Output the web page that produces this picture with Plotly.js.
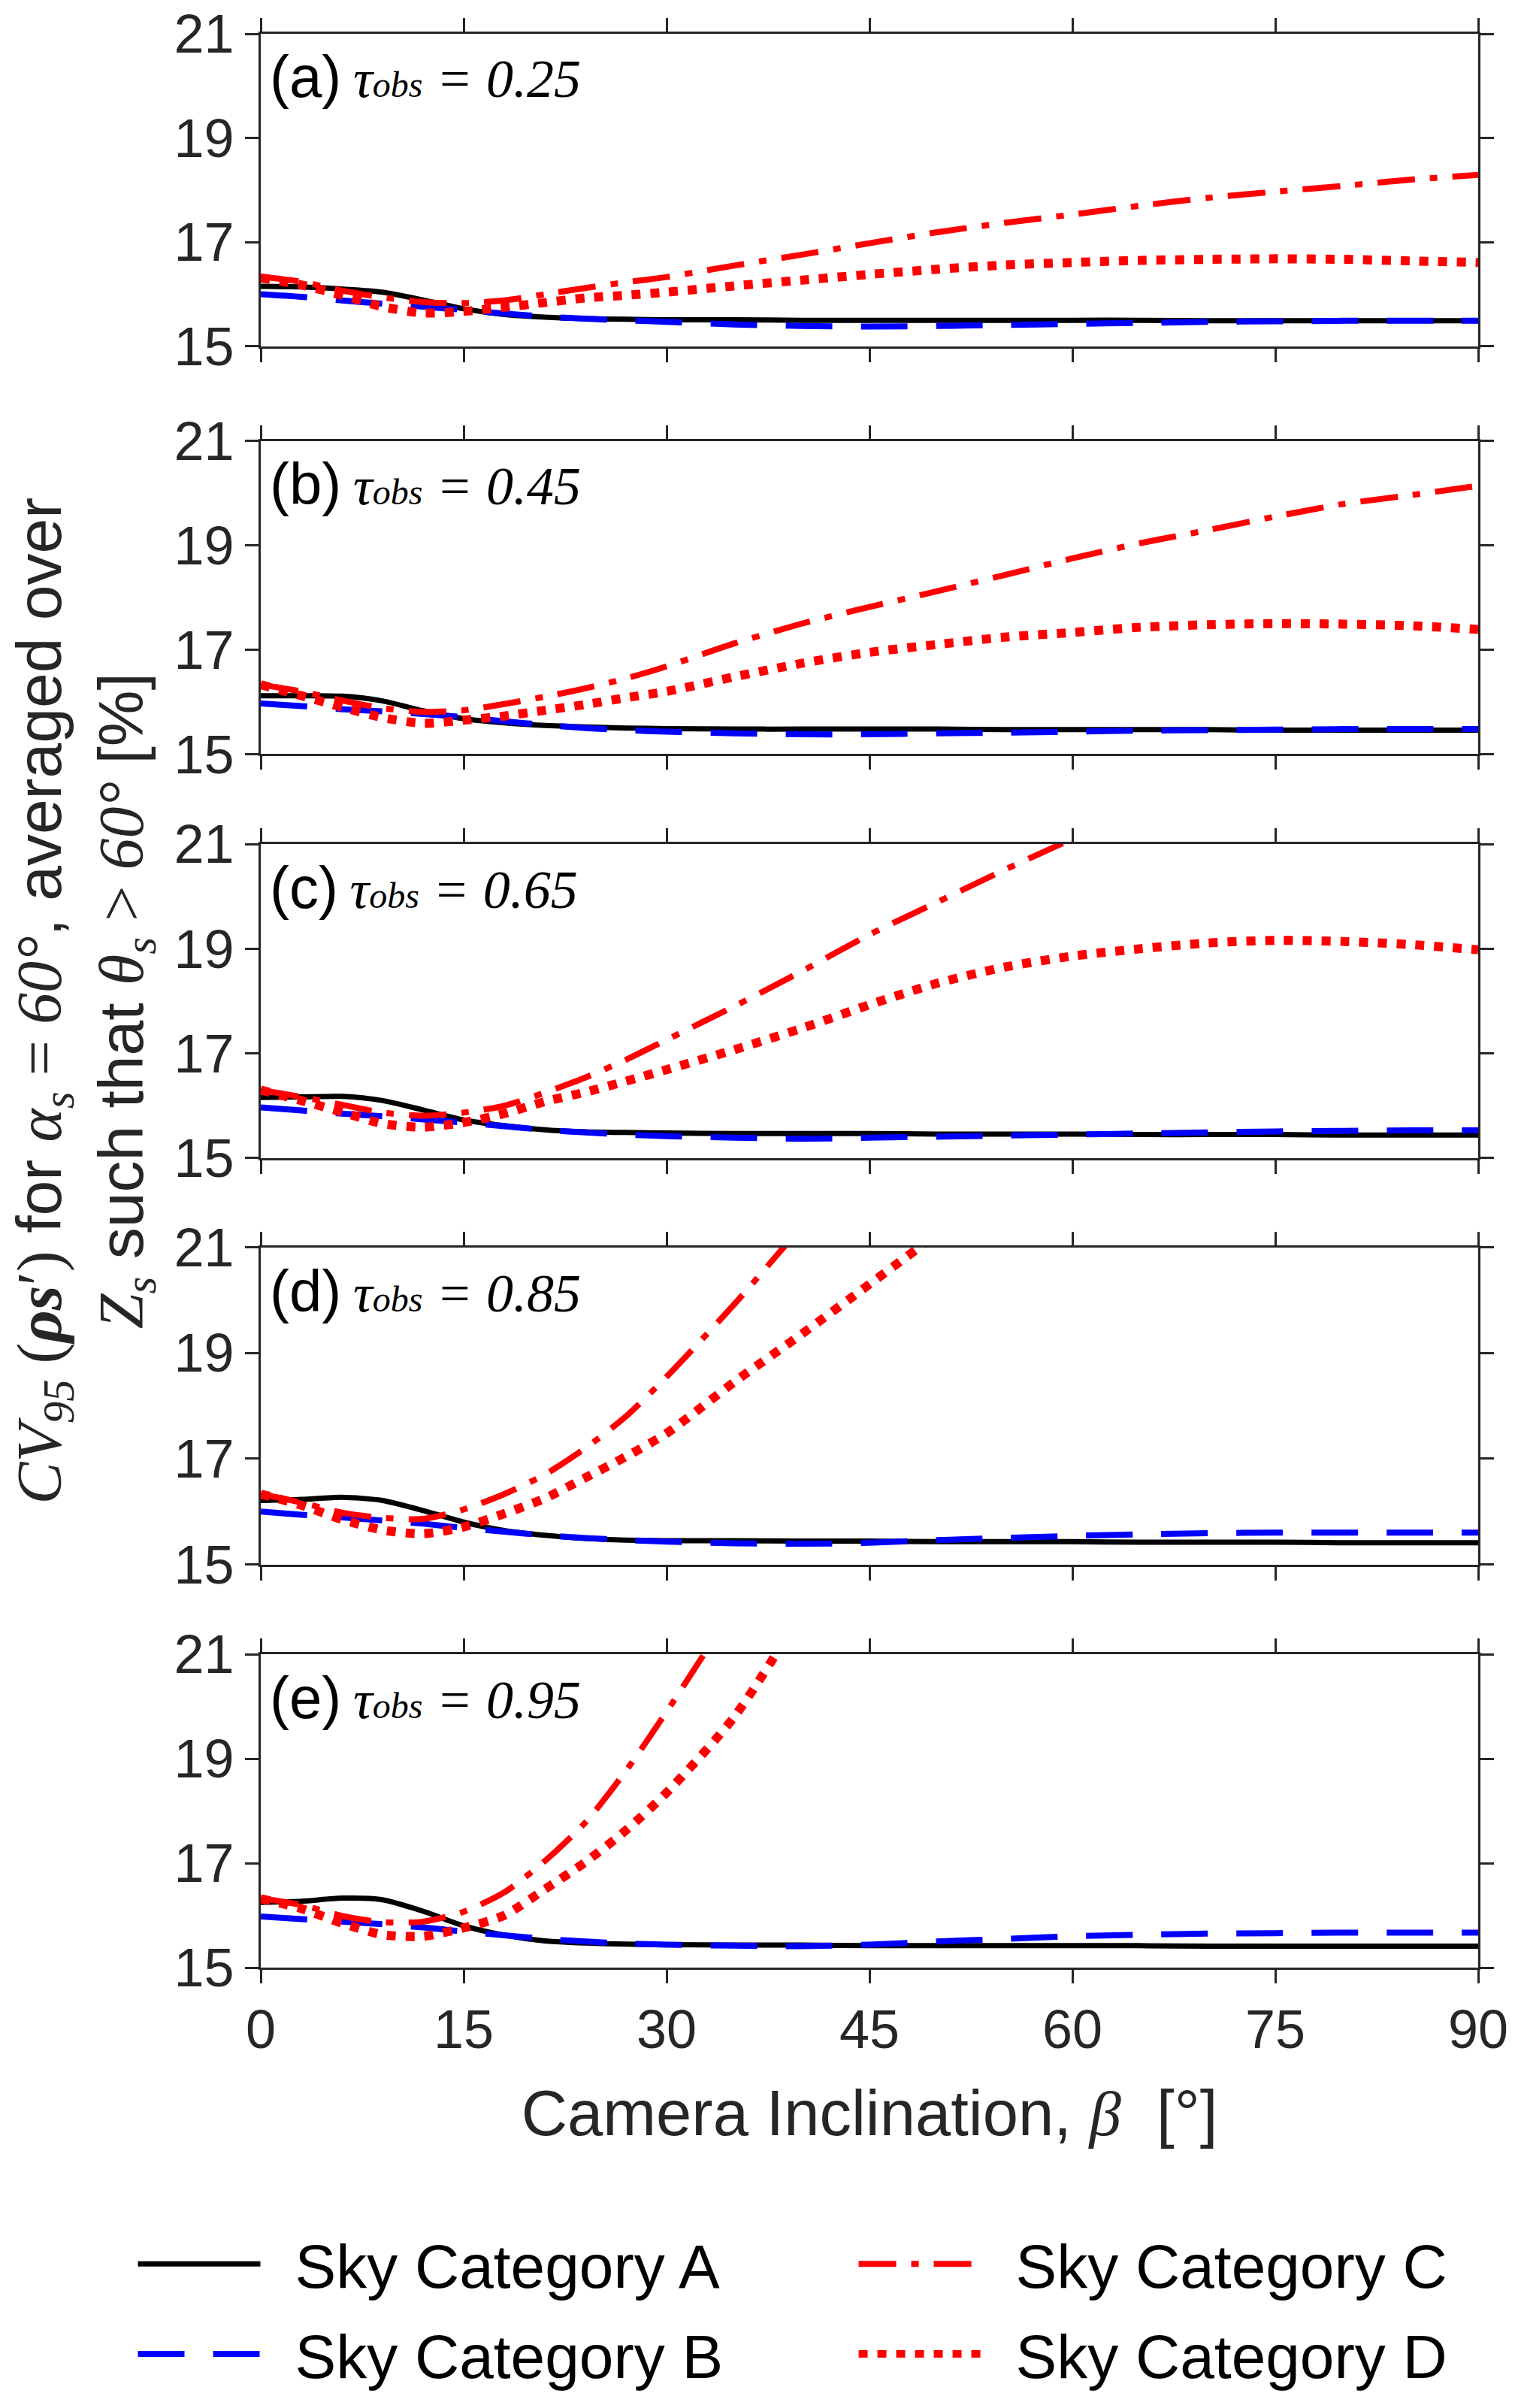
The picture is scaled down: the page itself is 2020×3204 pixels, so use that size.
<!DOCTYPE html>
<html>
<head>
<meta charset="utf-8">
<script src="https://cdn.plot.ly/plotly-3.0.1.min.js"></script>
<style>body{margin:0;background:#fff}</style>
</head>
<body>
<div id="chart" style="width:2020px;height:3204px"></div>
<script>
// camera inclination grid (deg)
const beta = [0, 3, 6, 9, 12, 15, 18, 21, 24, 27, 30, 35, 40, 45, 50, 55, 60, 65, 70, 75, 80, 85, 90];

const panelLetters = ['a', 'b', 'c', 'd', 'e'];
const tauObs = ['0.25', '0.45', '0.65', '0.85', '0.95'];
const seriesNames = ['Sky Category A', 'Sky Category B', 'Sky Category C', 'Sky Category D'];

// (a) tau_obs = 0.25
const skyA_025 = [16.15, 16.14, 16.10, 16.04, 15.89, 15.72, 15.61, 15.56, 15.53, 15.52, 15.51, 15.51, 15.50, 15.50, 15.50, 15.50, 15.50, 15.50, 15.49, 15.49, 15.49, 15.49, 15.49];
const skyB_025 = [16.00, 15.95, 15.88, 15.82, 15.76, 15.70, 15.63, 15.57, 15.53, 15.50, 15.47, 15.42, 15.39, 15.38, 15.39, 15.41, 15.43, 15.45, 15.47, 15.48, 15.49, 15.49, 15.49];
const skyC_025 = [16.34, 16.24, 16.07, 15.94, 15.85, 15.83, 15.88, 16.00, 16.12, 16.23, 16.33, 16.55, 16.76, 16.98, 17.19, 17.37, 17.53, 17.70, 17.85, 17.97, 18.08, 18.20, 18.29];
const skyD_025 = [16.31, 16.18, 15.98, 15.76, 15.64, 15.67, 15.75, 15.84, 15.93, 15.98, 16.04, 16.16, 16.27, 16.38, 16.48, 16.56, 16.61, 16.65, 16.67, 16.68, 16.67, 16.64, 16.61];

// (b) tau_obs = 0.45
const skyA_045 = [16.12, 16.12, 16.11, 16.02, 15.83, 15.68, 15.60, 15.55, 15.52, 15.50, 15.49, 15.48, 15.48, 15.48, 15.48, 15.47, 15.47, 15.47, 15.47, 15.46, 15.46, 15.46, 15.46];
const skyB_045 = [15.97, 15.92, 15.86, 15.82, 15.77, 15.71, 15.63, 15.56, 15.50, 15.46, 15.43, 15.40, 15.38, 15.38, 15.40, 15.41, 15.43, 15.45, 15.46, 15.47, 15.48, 15.48, 15.48];
const skyC_045 = [16.33, 16.20, 16.03, 15.88, 15.81, 15.84, 15.96, 16.10, 16.26, 16.45, 16.68, 17.12, 17.50, 17.82, 18.12, 18.43, 18.75, 19.04, 19.29, 19.55, 19.79, 19.96, 20.14];
const skyD_045 = [16.33, 16.12, 15.90, 15.70, 15.59, 15.65, 15.73, 15.84, 15.95, 16.08, 16.20, 16.48, 16.74, 16.95, 17.10, 17.24, 17.33, 17.43, 17.48, 17.50, 17.49, 17.46, 17.39];

// (c) tau_obs = 0.65
const skyA_065 = [16.16, 16.17, 16.18, 16.10, 15.92, 15.73, 15.62, 15.54, 15.50, 15.49, 15.48, 15.47, 15.47, 15.47, 15.46, 15.46, 15.46, 15.45, 15.45, 15.45, 15.44, 15.44, 15.44];
const skyB_065 = [15.97, 15.91, 15.85, 15.80, 15.74, 15.68, 15.61, 15.54, 15.49, 15.45, 15.42, 15.39, 15.37, 15.39, 15.41, 15.43, 15.45, 15.47, 15.49, 15.51, 15.52, 15.53, 15.53];
const skyC_065 = [16.30, 16.17, 16.02, 15.87, 15.81, 15.87, 16.00, 16.25, 16.54, 16.88, 17.26, 17.90, 18.57, 19.27, 19.89, 20.51, 21.10, 21.70, null, null, null, null, null];
const skyD_065 = [16.30, 16.10, 15.88, 15.66, 15.59, 15.68, 15.85, 16.08, 16.26, 16.47, 16.69, 17.07, 17.48, 17.93, 18.34, 18.65, 18.86, 19.00, 19.11, 19.16, 19.14, 19.08, 18.98];

// (d) tau_obs = 0.85
const skyA_085 = [16.21, 16.23, 16.27, 16.21, 16.02, 15.80, 15.64, 15.55, 15.49, 15.46, 15.45, 15.45, 15.44, 15.44, 15.43, 15.43, 15.43, 15.42, 15.42, 15.42, 15.41, 15.41, 15.41];
const skyB_085 = [16.00, 15.94, 15.89, 15.83, 15.77, 15.69, 15.62, 15.55, 15.50, 15.46, 15.43, 15.40, 15.39, 15.41, 15.46, 15.50, 15.54, 15.57, 15.59, 15.60, 15.60, 15.60, 15.60];
const skyC_085 = [16.33, 16.17, 15.98, 15.88, 15.86, 16.04, 16.33, 16.70, 17.20, 17.80, 18.55, 19.92, 21.40, null, null, null, null, null, null, null, null, null, null];
const skyD_085 = [16.33, 16.12, 15.85, 15.65, 15.58, 15.71, 15.96, 16.25, 16.64, 17.04, 17.48, 18.45, 19.36, 20.30, 21.25, null, null, null, null, null, null, null, null];

// (e) tau_obs = 0.95
const skyA_095 = [16.25, 16.27, 16.33, 16.30, 16.08, 15.80, 15.62, 15.51, 15.47, 15.45, 15.44, 15.43, 15.43, 15.42, 15.42, 15.42, 15.42, 15.42, 15.41, 15.41, 15.41, 15.41, 15.41];
const skyB_095 = [15.98, 15.93, 15.88, 15.83, 15.77, 15.69, 15.62, 15.55, 15.50, 15.46, 15.44, 15.42, 15.41, 15.44, 15.50, 15.55, 15.60, 15.63, 15.65, 15.66, 15.67, 15.67, 15.67];
const skyC_095 = [16.33, 16.20, 15.99, 15.87, 15.88, 16.07, 16.44, 17.04, 17.78, 18.77, 19.90, 21.90, null, null, null, null, null, null, null, null, null, null, null];
const skyD_095 = [16.32, 16.13, 15.85, 15.63, 15.60, 15.76, 16.00, 16.50, 17.02, 17.63, 18.35, 19.80, 21.80, null, null, null, null, null, null, null, null, null, null];

const panelData = [
  [skyA_025, skyB_025, skyC_025, skyD_025],
  [skyA_045, skyB_045, skyC_045, skyD_045],
  [skyA_065, skyB_065, skyC_065, skyD_065],
  [skyA_085, skyB_085, skyC_085, skyD_085],
  [skyA_095, skyB_095, skyC_095, skyD_095]
];

// line styles per sky category
const lineStyles = [
  { color: '#000000', width: 7, dash: 'solid' },
  { color: '#0000ff', width: 8, dash: '62px,38px' },
  { color: '#ff0000', width: 8, dash: '50px,20px,10px,20px' },
  { color: '#ff0000', width: 12, dash: '12px,13px' }
];
const legendOf = ['legend', 'legend', 'legend2', 'legend2'];

// panel domains (top to bottom)
const domains = [[0.8384, 1.0], [0.6275, 0.7895], [0.4186, 0.581], [0.2085, 0.3725], [0.0, 0.162]];

const mathFont = 'Liberation Serif, Times New Roman, serif';
const sansFont = 'Liberation Sans, Arial, sans-serif';
const axisColor = '#262626';
const legendPad = '\u2002';

const traces = [];
panelData.forEach((series, p) => {
  series.forEach((vals, k) => {
    traces.push({
      x: beta,
      y: vals,
      type: 'scatter',
      mode: 'lines',
      name: legendPad + seriesNames[k],
      legend: legendOf[k],
      legendgroup: seriesNames[k],
      showlegend: p === 0,
      xaxis: 'x' + (p + 1),
      yaxis: 'y' + (p + 1),
      line: { color: lineStyles[k].color, width: lineStyles[k].width, dash: lineStyles[k].dash, shape: 'spline', smoothing: 0.7 },
      connectgaps: false,
      hoverinfo: 'x+y+name'
    });
  });
});

const layout = {
  width: 2020,
  height: 3204,
  margin: { l: 347, r: 53, t: 45, b: 579 },
  paper_bgcolor: '#ffffff',
  plot_bgcolor: '#ffffff',
  font: { family: sansFont, size: 72, color: axisColor },
  showlegend: true,
  legend: {
    x: -0.104, y: -0.13, xanchor: 'left', yanchor: 'top',
    orientation: 'v', itemwidth: 163,
    font: { family: sansFont, size: 82, color: '#000000' },
    bgcolor: 'rgba(0,0,0,0)'
  },
  legend2: {
    x: 0.488, y: -0.13, xanchor: 'left', yanchor: 'top',
    orientation: 'v', itemwidth: 163,
    font: { family: sansFont, size: 82, color: '#000000' },
    bgcolor: 'rgba(0,0,0,0)'
  },
  annotations: []
};

domains.forEach((dom, p) => {
  const n = p + 1;
  layout['xaxis' + n] = {
    domain: [0, 1],
    anchor: 'y' + n,
    range: [0, 90],
    tickmode: 'linear', tick0: 0, dtick: 15,
    showticklabels: p === 4,
    ticks: 'outside', ticklen: 18, tickwidth: 3, tickcolor: axisColor,
    showline: true, linecolor: axisColor, linewidth: 3, mirror: 'allticks',
    showgrid: false, zeroline: false,
    tickfont: { family: sansFont, size: 72, color: axisColor }
  };
  layout['yaxis' + n] = {
    domain: dom,
    anchor: 'x' + n,
    range: [15, 21],
    tickmode: 'linear', tick0: 15, dtick: 2,
    ticks: 'outside', ticklen: 18, tickwidth: 3, tickcolor: axisColor,
    showline: true, linecolor: axisColor, linewidth: 3, mirror: 'allticks',
    showgrid: false, zeroline: false,
    tickfont: { family: sansFont, size: 72, color: axisColor }
  };
  // panel label, e.g. (a) tau_obs = 0.25
  layout.annotations.push({
    xref: 'x' + n + ' domain', yref: 'y' + n + ' domain',
    x: 0.006, y: 0.862, xanchor: 'left', yanchor: 'middle',
    showarrow: false,
    text: '(' + panelLetters[p] + ')\u2009<span style="font-family:' + mathFont + ';font-size:72px"><i>τ</i>' +
          '<span style="font-size:48px"><i>obs</i></span><i> = ' + tauObs[p] + '</i></span>',
    font: { family: sansFont, size: 78, color: '#000000' }
  });
});

layout.xaxis5.title = {
  text: 'Camera Inclination, <span style="font-family:' + mathFont + '"><i>β</i></span>  [°]',
  font: { family: sansFont, size: 85, color: axisColor },
  standoff: 43
};

// y axis title spans all panels
layout.annotations.push({
  xref: 'paper', yref: 'paper',
  x: -0.145, y: 0.5, xanchor: 'center', yanchor: 'middle',
  textangle: -90,
  showarrow: false,
  text: '<span style="font-family:' + mathFont + '"><i>CV</i><sub><i>95</i></sub> (<b><i>ρs</i></b>′)</span> for ' +
        '<span style="font-family:' + mathFont + '"><i>α</i><sub><i>s</i></sub> = <i>60°</i></span>, averaged over<br>' +
        '<span style="font-family:' + mathFont + '"><i>Z</i><sub><i>s</i></sub></span> such that ' +
        '<span style="font-family:' + mathFont + '"><i>θ</i><sub><i>s</i></sub> &gt; <i>60°</i></span> [%]',
  font: { family: sansFont, size: 84, color: axisColor }
});

Plotly.newPlot('chart', traces, layout, { staticPlot: true });
</script>
</body>
</html>
